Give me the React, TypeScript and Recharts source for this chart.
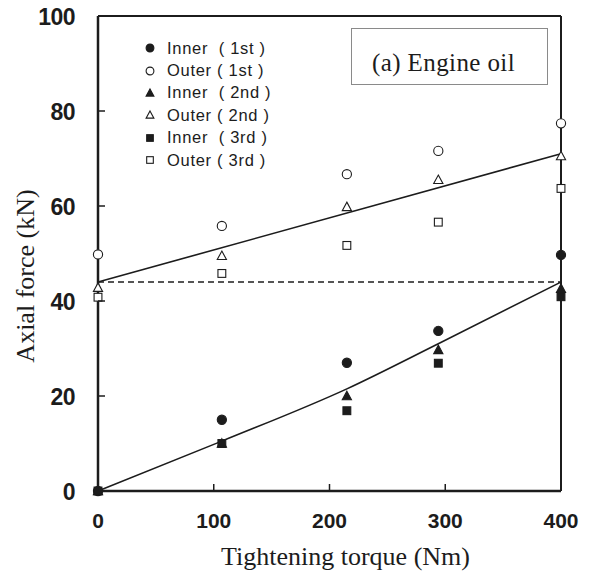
import React from 'react';
import { ComposedChart, Scatter, Line, XAxis, YAxis, ReferenceLine } from 'recharts';

const torque = [0, 107, 215, 294, 400];
const innerFirst = [0, 15, 27, 33.7, 49.7];
const outerFirst = [49.8, 55.8, 66.7, 71.6, 77.4];
const innerSecond = [0, 10, 20, 29.7, 42.6];
const outerSecond = [42.8, 49.5, 59.8, 65.5, 70.5];
const innerThird = [0, 10, 16.9, 26.9, 40.9];
const outerThird = [40.8, 45.8, 51.7, 56.6, 63.7];

// drawn fit lines
const outerFitX = [0, 400];
const outerFitY = [44, 71];
const innerFitX = [0, 107, 215, 294, 400];
const innerFitY = [0, 10.5, 21.5, 31, 44];
const levelForce = 44;

const xTicks = [0, 100, 200, 300, 400];
const yTicks = [0, 20, 40, 60, 80, 100];

const INK = '#1c1c1c';
const TICK_FONT = '"Liberation Sans", Arial, sans-serif';
const SERIF = '"Liberation Serif", "Times New Roman", serif';

const toPoints = (xs: number[], ys: number[]) => xs.map((x, i) => ({ x, y: ys[i] }));

type Kind = 'circle' | 'triangle' | 'square';

const series: { name: string; run: string; values: number[]; kind: Kind; filled: boolean }[] = [
  { name: 'Inner', run: '1st', values: innerFirst, kind: 'circle', filled: true },
  { name: 'Outer', run: '1st', values: outerFirst, kind: 'circle', filled: false },
  { name: 'Inner', run: '2nd', values: innerSecond, kind: 'triangle', filled: true },
  { name: 'Outer', run: '2nd', values: outerSecond, kind: 'triangle', filled: false },
  { name: 'Inner', run: '3rd', values: innerThird, kind: 'square', filled: true },
  { name: 'Outer', run: '3rd', values: outerThird, kind: 'square', filled: false },
];

function Marker({ kind, filled, cx, cy, s }: { kind: Kind; filled: boolean; cx: number; cy: number; s: number }) {
  const fill = filled ? INK : '#fff';
  if (kind === 'circle') {
    return <circle cx={cx} cy={cy} r={s} fill={fill} stroke={INK} strokeWidth={1.1} />;
  }
  if (kind === 'triangle') {
    const d = `M${cx},${cy - s * 1.05} L${cx + s},${cy + s * 0.8} L${cx - s},${cy + s * 0.8} Z`;
    return <path d={d} fill={fill} stroke={INK} strokeWidth={1.1} strokeLinejoin="miter" />;
  }
  const h = s * 0.85;
  return <rect x={cx - h} y={cy - h} width={h * 2} height={h * 2} fill={fill} stroke={INK} strokeWidth={1.1} />;
}

const Y_MARGIN = 23;
const X_MARGIN = 20;

const YTick = (props: any) => {
  const { x, y, payload } = props;
  return (
    <g>
      <line x1={x + Y_MARGIN} x2={x + Y_MARGIN + 7} y1={y} y2={y} stroke={INK} strokeWidth={1.5} />
      <text
        x={x}
        y={y + 8.5}
        textAnchor="end"
        fontFamily={TICK_FONT}
        fontWeight="bold"
        fontSize={23}
        letterSpacing={-0.5}
        fill={INK}
      >
        {payload.value}
      </text>
    </g>
  );
};

const XTick = (props: any) => {
  const { x, y, payload } = props;
  return (
    <g>
      <line x1={x} x2={x} y1={y - X_MARGIN} y2={y - X_MARGIN - 7} stroke={INK} strokeWidth={1.5} />
      <text
        x={x}
        y={y + 17}
        textAnchor="middle"
        fontFamily={TICK_FONT}
        fontWeight="bold"
        fontSize={21}
        fill={INK}
      >
        {payload.value}
      </text>
    </g>
  );
};

const XTitle = (props: any) => {
  const { viewBox } = props;
  const cx = viewBox.x + viewBox.width / 2 + 16;
  return (
    <text x={cx} y={565} textAnchor="middle" fontFamily={SERIF} fontSize={26} fill={INK}>
      Tightening torque (Nm)
    </text>
  );
};

const YTitle = (props: any) => {
  const { viewBox } = props;
  const cx = viewBox.x + 34;
  const cy = 276;
  return (
    <text
      x={cx}
      y={cy}
      transform={`rotate(-90, ${cx}, ${cy})`}
      textAnchor="middle"
      fontFamily={SERIF}
      fontSize={26}
      fill={INK}
    >
      Axial force (kN)
    </text>
  );
};

export default function App() {
  return (
    <div style={{ position: 'absolute', left: 0, top: 0, width: 589, height: 580, background: '#fff' }}>
      <ComposedChart width={589} height={580} margin={{ top: 16, right: 28, left: 0, bottom: 0 }}>
        <XAxis
          type="number"
          dataKey="x"
          domain={[0, 400]}
          ticks={xTicks}
          height={89}
          tickSize={0}
          tickMargin={X_MARGIN}
          tickLine={false}
          axisLine={{ stroke: INK, strokeWidth: 2.5 }}
          tick={<XTick />}
          label={<XTitle />}
        />
        <YAxis
          type="number"
          dataKey="y"
          domain={[0, 100]}
          ticks={yTicks}
          width={98}
          tickSize={0}
          tickMargin={Y_MARGIN}
          tickLine={false}
          axisLine={{ stroke: INK, strokeWidth: 2.5 }}
          tick={<YTick />}
          label={<YTitle />}
        />
        <ReferenceLine y={100} stroke={INK} strokeWidth={2} />
        <ReferenceLine x={400} stroke={INK} strokeWidth={2} />
        <ReferenceLine y={levelForce} stroke={INK} strokeWidth={1.3} strokeDasharray="6 4" />
        <Line
          data={toPoints(outerFitX, outerFitY)}
          dataKey="y"
          type="linear"
          stroke={INK}
          strokeWidth={1.6}
          dot={false}
          activeDot={false}
          isAnimationActive={false}
        />
        <Line
          data={toPoints(innerFitX, innerFitY)}
          dataKey="y"
          type="monotone"
          stroke={INK}
          strokeWidth={1.6}
          dot={false}
          activeDot={false}
          isAnimationActive={false}
        />
        {series.map((s, i) => (
          <Scatter
            key={i}
            data={toPoints(torque, s.values)}
            dataKey="y"
            isAnimationActive={false}
            shape={(p: any) => <Marker kind={s.kind} filled={s.filled} cx={p.cx} cy={p.cy} s={4.6} />}
          />
        ))}
      </ComposedChart>

      <div style={{ position: 'absolute', left: 140, top: 37, fontFamily: '"Liberation Sans", Arial, sans-serif', fontSize: 16.5, color: INK }}>
        {series.map((s, i) => (
          <div key={i} style={{ display: 'flex', alignItems: 'center', height: 22.4 }}>
            <svg width={20} height={16} style={{ flex: 'none' }}>
              <Marker kind={s.kind} filled={s.filled} cx={10} cy={8} s={3.9} />
            </svg>
            <span style={{ whiteSpace: 'pre', marginLeft: 7, letterSpacing: 0.7 }}>
              {s.name}{s.name === 'Inner' ? '  ' : ' '}( {s.run} )
            </span>
          </div>
        ))}
      </div>

      <div
        style={{
          position: 'absolute',
          left: 351,
          top: 28,
          width: 197,
          height: 57,
          border: '1px solid #8a8a8a',
          boxSizing: 'border-box',
          fontFamily: SERIF,
          fontSize: 25,
          letterSpacing: 0.4,
          color: INK,
          lineHeight: '25px',
          paddingTop: 21,
          paddingLeft: 20,
          whiteSpace: 'nowrap',
        }}
      >
        (a) Engine oil
      </div>
    </div>
  );
}
